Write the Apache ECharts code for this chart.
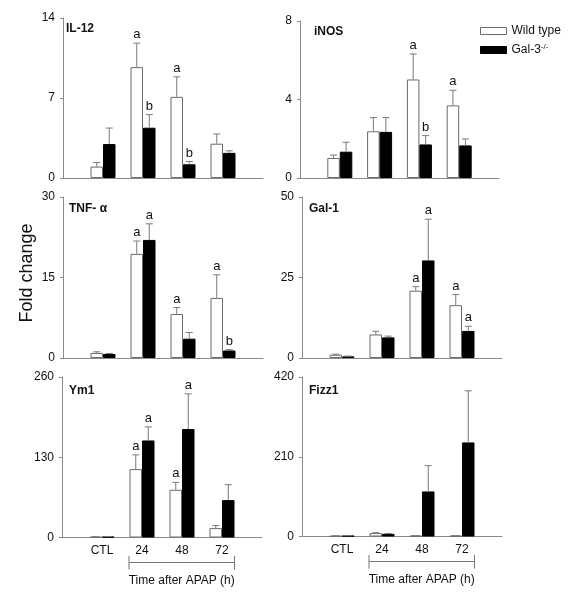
<!DOCTYPE html>
<html>
<head>
<meta charset="utf-8">
<script src="https://cdn.jsdelivr.net/npm/echarts@6/dist/echarts.min.js"></script>
<style>html,body{margin:0;padding:0;background:#fff}#c{width:571px;height:600px}</style>
</head>
<body>
<div id="c"></div>
<script>
// ---- data ----
const categories = ['CTL', '24', '48', '72'];
const panelNames = ['IL-12', 'iNOS', 'TNF- α', 'Gal-1', 'Ym1', 'Fizz1'];
const yMax = [14, 8, 30, 50, 260, 420];
const yInterval = [7, 4, 15, 25, 130, 210];

const il12_wt = [1.0, 9.7, 7.1, 3.0];
const il12_wt_err = [0.35, 2.1, 1.75, 0.85];
const il12_wt_sig = ['', 'a', 'a', ''];
const il12_ko = [2.97, 4.4, 1.2, 2.2];
const il12_ko_err = [1.4, 1.15, 0.25, 0.18];
const il12_ko_sig = ['', 'b', 'b', ''];

const inos_wt = [1.02, 2.38, 5.02, 3.7];
const inos_wt_err = [0.15, 0.7, 1.3, 0.77];
const inos_wt_sig = ['', '', 'a', 'a'];
const inos_ko = [1.34, 2.35, 1.71, 1.66];
const inos_ko_err = [0.48, 0.73, 0.45, 0.33];
const inos_ko_sig = ['', '', 'b', ''];

const tnf_wt = [0.95, 19.4, 8.2, 11.2];
const tnf_wt_err = [0.2, 2.4, 1.2, 4.3];
const tnf_wt_sig = ['', 'a', 'a', 'a'];
const tnf_ko = [0.75, 22.0, 3.6, 1.4];
const tnf_ko_err = [0.1, 3.0, 1.15, 0.15];
const tnf_ko_sig = ['', 'a', '', 'b'];

const gal1_wt = [1.0, 7.3, 20.9, 16.4];
const gal1_wt_err = [0.2, 1.0, 1.25, 3.3];
const gal1_wt_sig = ['', '', 'a', 'a'];
const gal1_ko = [0.5, 6.4, 30.3, 8.4];
const gal1_ko_err = [0.1, 0.4, 12.8, 1.45];
const gal1_ko_sig = ['', '', 'a', 'a'];

const ym1_wt = [1.0, 110.8, 77.3, 15.2];
const ym1_wt_err = [0.3, 23, 12, 4];
const ym1_wt_sig = ['', 'a', 'a', ''];
const ym1_ko = [1.3, 157.2, 175.7, 60.6];
const ym1_ko_err = [0.3, 22, 57, 25];
const ym1_ko_sig = ['', 'a', 'a', ''];

const fizz1_wt = [1.5, 9, 2, 2];
const fizz1_wt_err = [0.3, 1, 0.3, 0.3];
const fizz1_wt_sig = ['', '', '', ''];
const fizz1_ko = [2, 7, 118.6, 247.7];
const fizz1_ko_err = [0.3, 0.8, 68, 136];
const fizz1_ko_sig = ['', '', '', ''];

const groupNames = ['Wild type', 'Gal-3-/-'];
const xLabelTitle = 'Time after APAP (h)';
const yTitle = 'Fold change';

// ---- layout ----
const panels = [
  {wt: il12_wt, wte: il12_wt_err, wts: il12_wt_sig, ko: il12_ko, koe: il12_ko_err, kos: il12_ko_sig,
   grid: {left: 63, top: 18, width: 200, height: 160}, title: [66, 23]},
  {wt: inos_wt, wte: inos_wt_err, wts: inos_wt_sig, ko: inos_ko, koe: inos_ko_err, kos: inos_ko_sig,
   grid: {left: 300, top: 21, width: 199, height: 157}, title: [314, 26]},
  {wt: tnf_wt, wte: tnf_wt_err, wts: tnf_wt_sig, ko: tnf_ko, koe: tnf_ko_err, kos: tnf_ko_sig,
   grid: {left: 63, top: 197, width: 200, height: 161}, title: [69, 203]},
  {wt: gal1_wt, wte: gal1_wt_err, wts: gal1_wt_sig, ko: gal1_ko, koe: gal1_ko_err, kos: gal1_ko_sig,
   grid: {left: 302, top: 197, width: 200, height: 161}, title: [309, 203]},
  {wt: ym1_wt, wte: ym1_wt_err, wts: ym1_wt_sig, ko: ym1_ko, koe: ym1_ko_err, kos: ym1_ko_sig,
   grid: {left: 62, top: 377, width: 200, height: 160.5}, title: [69, 385]},
  {wt: fizz1_wt, wte: fizz1_wt_err, wts: fizz1_wt_sig, ko: fizz1_ko, koe: fizz1_ko_err, kos: fizz1_ko_sig,
   grid: {left: 302, top: 377, width: 200, height: 159.5}, title: [309, 385]}
];

const FONT = 'Liberation Sans, Arial, sans-serif';
const AXIS = '#8a8a8a';
const ERR = '#7a7a7a';
const BARW = 12.5;
const xCats = [''].concat(categories).concat(['']);

function pad(arr) { return [null].concat(arr).concat([null]); }

function errSeries(pi, vals, errs, sigs, side) {
  return {
    type: 'custom', xAxisIndex: pi, yAxisIndex: pi, silent: true, z: 5,
    data: vals.map((v, i) => [i + 1, v + errs[i]]),
    renderItem: function (params, api) {
      const i = params.dataIndex;
      const v = vals[i], e = errs[i], lab = sigs[i];
      const xi = api.value(0);
      const base = api.coord([xi, v]);
      const top = api.coord([xi, v + e]);
      const x = base[0] + side * BARW / 2;
      const ch = [];
      if (e > 0) {
        ch.push({type: 'line', shape: {x1: x, y1: base[1], x2: x, y2: top[1]}, style: {stroke: ERR, lineWidth: 1}});
        ch.push({type: 'line', shape: {x1: x - 3.5, y1: top[1], x2: x + 3.5, y2: top[1]}, style: {stroke: ERR, lineWidth: 1}});
      }
      if (lab) {
        ch.push({type: 'text', x: x, y: top[1] - 2, style: {text: lab, textAlign: 'center', textVerticalAlign: 'bottom', font: '13px ' + FONT, fill: '#111'}});
      }
      return {type: 'group', children: ch};
    }
  };
}

const grids = [], xAxes = [], yAxes = [], series = [], titles = [];
panels.forEach((p, pi) => {
  grids.push(Object.assign({outerBoundsMode: 'none', containLabel: false}, p.grid));
  const bottom = pi >= 4;
  xAxes.push({
    type: 'category', gridIndex: pi, data: xCats, boundaryGap: false,
    axisLine: {lineStyle: {color: AXIS, width: 1}}, axisTick: {show: false},
    axisLabel: {show: bottom, interval: 0, margin: 7, fontSize: 12, fontFamily: FONT, color: '#111'},
    splitLine: {show: false}
  });
  yAxes.push({
    type: 'value', gridIndex: pi, min: 0, max: yMax[pi], interval: yInterval[pi],
    axisLine: {show: true, lineStyle: {color: AXIS, width: 1}},
    axisTick: {show: true, length: 3, lineStyle: {color: AXIS}},
    axisLabel: {margin: 8, fontSize: 12, fontFamily: FONT, color: '#111'},
    splitLine: {show: false}
  });
  series.push({
    type: 'bar', name: groupNames[0], xAxisIndex: pi, yAxisIndex: pi, data: pad(p.wt),
    barWidth: BARW, barGap: '0%', itemStyle: {color: '#fff', borderColor: '#6a6a6a', borderWidth: 1}, silent: true
  });
  series.push({
    type: 'bar', name: groupNames[1], xAxisIndex: pi, yAxisIndex: pi, data: pad(p.ko),
    barWidth: BARW, barGap: '0%', itemStyle: {color: '#000', borderColor: '#000', borderWidth: 1}, silent: true
  });
  series.push(errSeries(pi, p.wt, p.wte, p.wts, -1));
  series.push(errSeries(pi, p.ko, p.koe, p.kos, 1));
  titles.push({text: panelNames[pi], left: p.title[0], top: p.title[1], padding: 0,
    textStyle: {fontSize: 12, fontWeight: 'bold', fontFamily: FONT, color: '#111'}});
});

const chart = echarts.init(document.getElementById('c'), null, {renderer: 'canvas'});
chart.setOption({
  animation: false,
  backgroundColor: '#fff',
  title: titles,
  grid: grids, xAxis: xAxes, yAxis: yAxes, series: series,
  legend: {
    data: groupNames, orient: 'vertical', left: 480, top: 25, itemWidth: 26, itemHeight: 7, itemGap: 6,
    icon: 'rect', selectedMode: false, padding: 0,
    itemStyle: {borderWidth: 1},
    textStyle: {fontSize: 12, fontFamily: FONT, color: '#111',
      rich: {n: {fontSize: 12, fontFamily: FONT, color: '#111'}, s: {fontSize: 8, fontFamily: FONT, color: '#111', verticalAlign: 'top', padding: [0, 0, 6, 0]}}},
    formatter: function (name) { return name === groupNames[1] ? '{n|Gal-3}{s|-/-}' : '{n|' + name + '}'; }
  },
  graphic: []
});

// annotation: fold change label and brackets
const g = [{type: 'text', x: 27, y: 273, rotation: Math.PI / 2,
  style: {text: yTitle, font: '18px ' + FONT, fill: '#111', textAlign: 'center', textVerticalAlign: 'middle'}}];
[4, 5].forEach(pi => {
  const a = chart.convertToPixel({xAxisIndex: pi, yAxisIndex: pi}, [2, 0]);
  const b = chart.convertToPixel({xAxisIndex: pi, yAxisIndex: pi}, [4, 0]);
  const x1 = a[0] - BARW - 0.5, x2 = b[0] + BARW;
  const y = a[1] + 25;
  const st = {stroke: '#777', lineWidth: 1};
  g.push({type: 'line', shape: {x1: x1, y1: y, x2: x2, y2: y}, style: st});
  g.push({type: 'line', shape: {x1: x1, y1: y - 6.5, x2: x1, y2: y + 7}, style: st});
  g.push({type: 'line', shape: {x1: x2, y1: y - 6.5, x2: x2, y2: y + 7}, style: st});
  g.push({type: 'text', x: (x1 + x2) / 2, y: y + 18, style: {text: xLabelTitle, font: '12px ' + FONT, fill: '#111', textAlign: 'center', textVerticalAlign: 'middle'}});
});
chart.setOption({graphic: g});
</script>
</body>
</html>
